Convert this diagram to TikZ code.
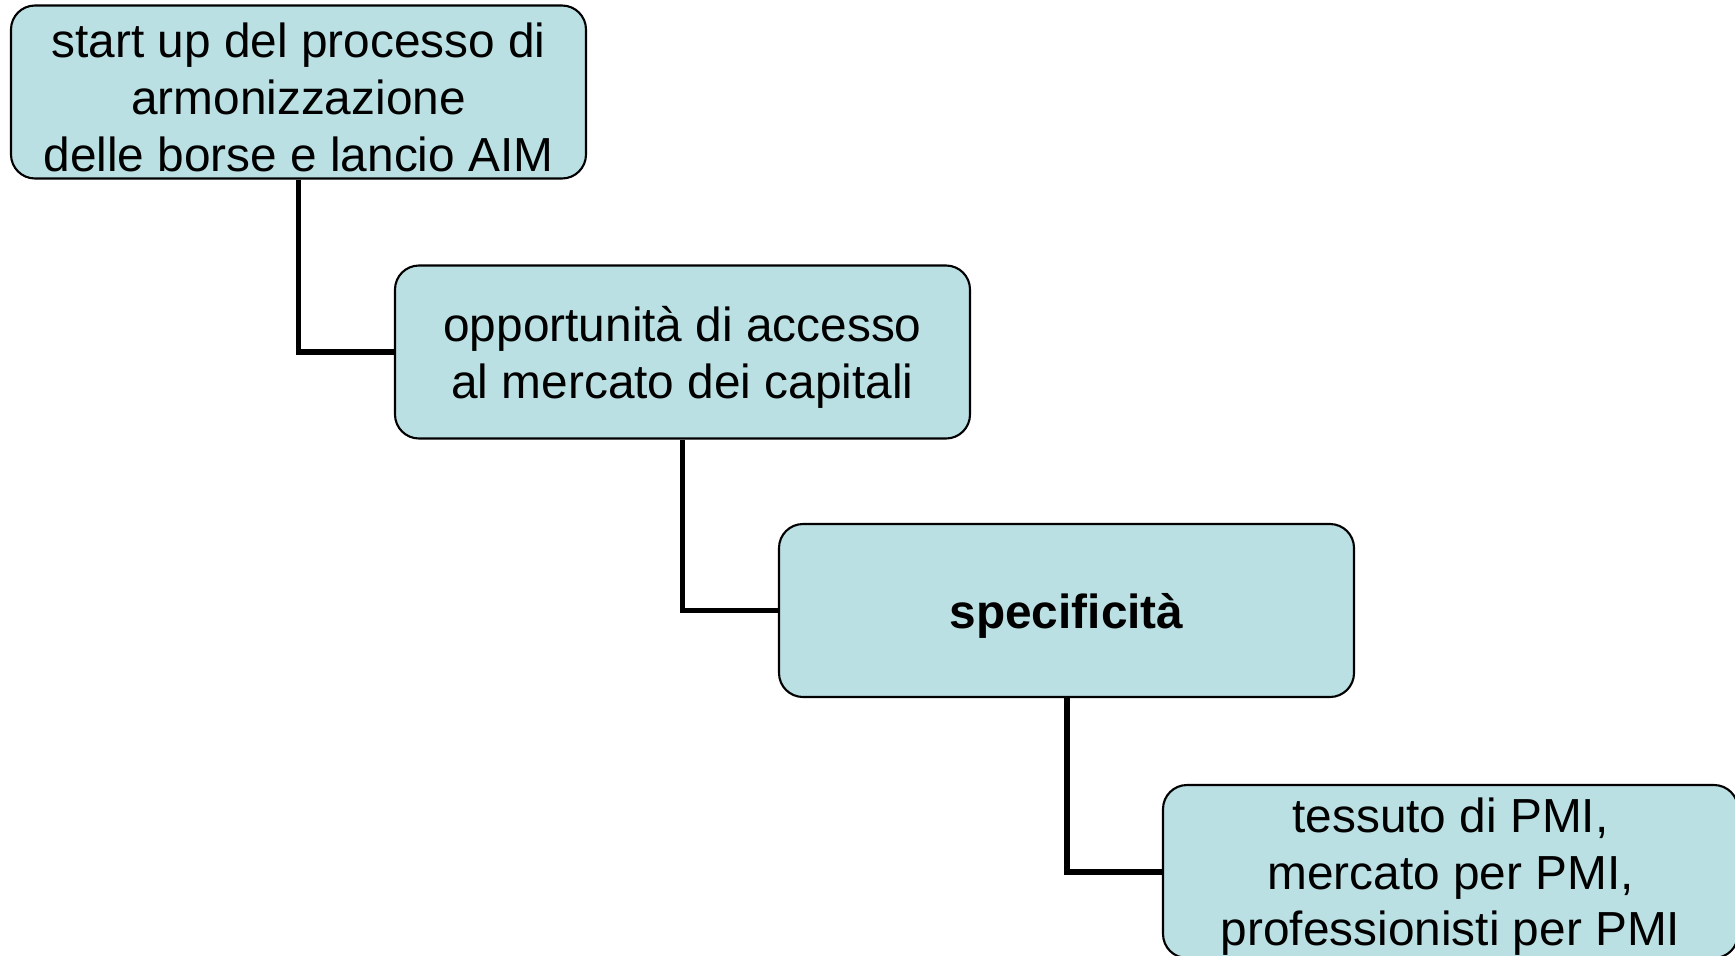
\documentclass[tikz,border=0pt]{standalone}
\usepackage{fontspec}
\setmainfont{Liberation Sans}
\definecolor{boxfill}{RGB}{187,224,227}
\newcommand{\boxstrut}{\rule{0pt}{12.9pt}}
\tikzset{
	stepbox/.style={draw=black,line width=0.6pt,fill=boxfill,rounded corners=0.24cm,
		minimum width=5.75cm,minimum height=1.73cm,inner sep=0pt,align=center,
		font=\fontsize{13.6}{16.1}\selectfont},
	link/.style={line width=1.7pt,color=black}
}

\begin{document}
\begin{tikzpicture}
		\useasboundingbox (0,0) rectangle (17.35,-9.55);
		% \draw[step=1] (0,-9.55) grid (17.35,0);
		\node[stepbox] (n1) at (2.985,-0.92){\boxstrut start up del processo di\\ armonizzazione\\ delle borse e lancio AIM};
		\node[stepbox] (n2) at (6.825,-3.52){\boxstrut opportunità di accesso\\ al mercato dei capitali};
		\node[stepbox] (n3) at (10.665,-6.105){\boxstrut\bfseries specificità};
		\node[stepbox] (n4) at (14.505,-8.715){\boxstrut tessuto di PMI,\\ mercato per PMI,\\ professionisti per PMI};
		\draw[link] (n1.south) |- (n2.west);
		\draw[link] (n2.south) |- (n3.west);
		\draw[link] (n3.south) |- (n4.west);
		\end{tikzpicture}
\end{document}
